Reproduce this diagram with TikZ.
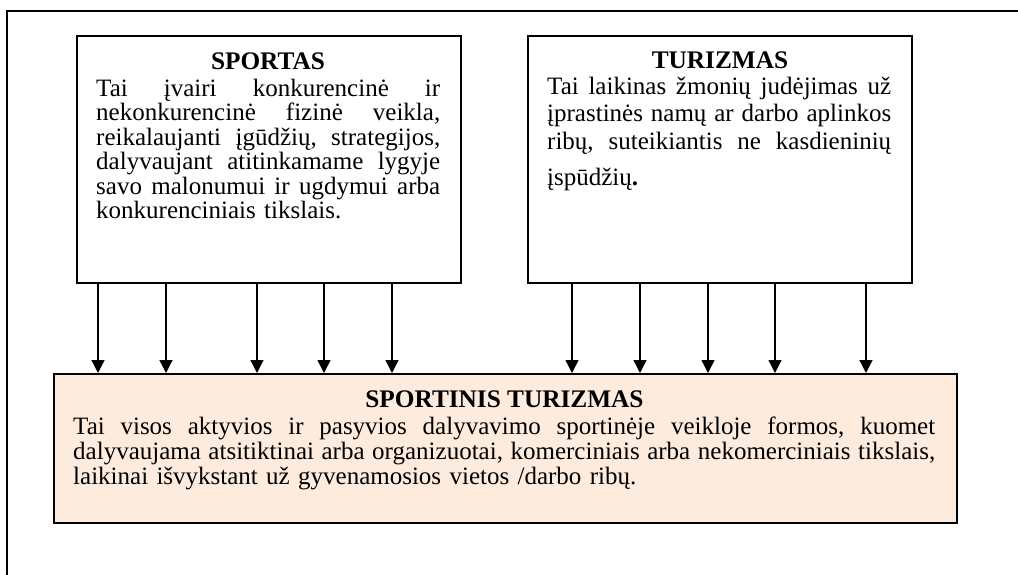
\documentclass[tikz,border=0pt]{standalone}
\usepackage{fontspec}
\setmainfont{Liberation Serif}
\usetikzlibrary{arrows.meta}
\definecolor{peach}{RGB}{253,235,221}
\tikzset{
  box/.style={draw=black, line width=2pt, rectangle, inner sep=0pt, anchor=north west},
  heading/.style={font=\fontsize{25.3}{28}\selectfont\bfseries, anchor=base, inner sep=0pt},
  bodytext/.style={anchor=base west, inner sep=0pt, text width=#1, align=left},
  link/.style={-{Triangle[width=13pt,length=13pt]}, line width=1.4pt},
}
% one fully justified line: the word spaces stretch to fill the width
\newcommand\jline[2]{\leavevmode\hbox to #1{\frenchspacing\spaceskip=0.25em plus 1fil\relax #2}}
\begin{document}
\begin{tikzpicture}[x=1pt, y=-1pt]
  \useasboundingbox (0,0) rectangle (1018,574);
  \clip (0,0) rectangle (1018,574);
  % page frame, running off the right and bottom edges
  \draw[line width=2pt] (7,600) -- (7,11) -- (1040,11);

  % boxes
  \node[box, minimum width=384pt, minimum height=247pt] (sport) at (76,35) {};
  \node[box, minimum width=384pt, minimum height=247pt] (tour) at (527,35) {};
  \node[box, fill=peach, minimum width=903pt, minimum height=149pt] (sptour) at (53,373) {};

  % texts
  \node[heading] (sporthead) at (268,69) {SPORTAS};
  \node[bodytext=344pt, font=\fontsize{25}{24.5}\selectfont] (sportbody) at (96,96) {%
    \jline{344pt}{Tai įvairi konkurencinė ir}\\
    \jline{344pt}{nekonkurencinė fizinė veikla,}\\
    \jline{344pt}{reikalaujanti įgūdžių, strategijos,}\\
    \jline{344pt}{dalyvaujant atitinkamame lygyje}\\
    \jline{344pt}{savo malonumui ir ugdymui arba}\\
    konkurenciniais tikslais.};

  \node[heading] (tourhead) at (720,68) {TURIZMAS};
  \node[bodytext=344pt, font=\fontsize{25}{27.5}\selectfont] (tourbody) at (547,94) {%
    \jline{344pt}{Tai laikinas žmonių judėjimas už}\\
    \jline{344pt}{įprastinės namų ar darbo aplinkos}\\
    \jline{344pt}{ribų, suteikiantis ne kasdieninių}\\[8.5pt]
    įspūdžių\textbf{.}};

  \node[heading] (sptourhead) at (504.5,407) {SPORTINIS TURIZMAS};
  \node[bodytext=862pt, font=\fontsize{25}{25}\selectfont] (sptourbody) at (73,434) {%
    \jline{862pt}{Tai visos aktyvios ir pasyvios dalyvavimo sportinėje veikloje formos, kuomet}\\
    \jline{862pt}{dalyvaujama atsitiktinai arba organizuotai, komerciniais arba nekomerciniais tikslais,}\\
    laikinai išvykstant už gyvenamosios vietos /darbo ribų.};

  % arrow positions
  \foreach \n/\x in {a1/98, a2/166, a3/257, a4/324, a5/392,
                     b1/572, b2/640, b3/708, b4/775, b5/866}
    \coordinate (\n) at (\x,0);

  \foreach \n in {a1,a2,a3,a4,a5}
    \draw[link] (sport.south -| \n) -- (sptour.north -| \n);
  \foreach \n in {b1,b2,b3,b4,b5}
    \draw[link] (tour.south -| \n) -- (sptour.north -| \n);
\end{tikzpicture}
\end{document}
